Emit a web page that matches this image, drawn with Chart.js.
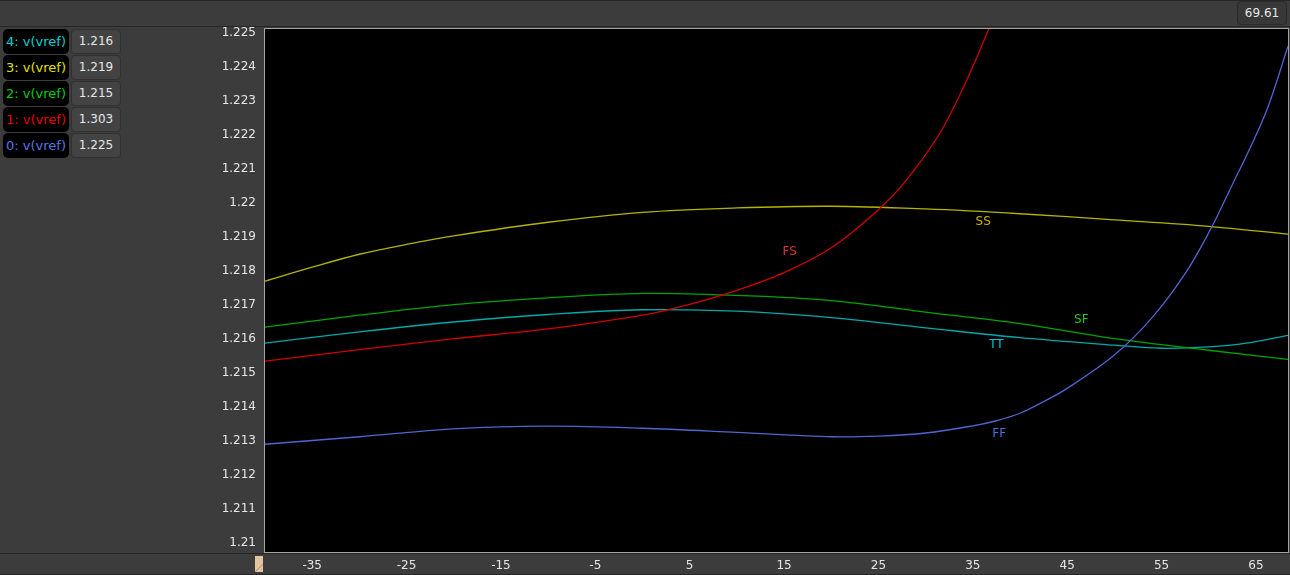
<!DOCTYPE html>
<html>
<head>
<meta charset="utf-8">
<script src="https://cdn.jsdelivr.net/npm/chart.js@4/dist/chart.umd.min.js"></script>
<style>
  html, body { margin: 0; padding: 0; background: #3c3c3c; overflow: hidden; }
  body { width: 1290px; height: 575px; position: relative; font-family: "DejaVu Sans", sans-serif; }
  #topbar { position: absolute; left: 0; top: 0; width: 1290px; height: 27px; border-top: 1px solid #262626; border-bottom: 1px solid #262626; box-sizing: border-box; }
  #cursor { position: absolute; left: 1237px; top: 1px; width: 50px; height: 24px; background: #383838; border: 1px solid #2a2a2a; border-radius: 4px; box-sizing: border-box; color: #e6e6e6; font-size: 12px; line-height: 22px; text-align: center; }
  #legend { position: absolute; left: 3px; top: 29px; }
  .row { position: relative; height: 26px; }
  .name { position: absolute; left: 0; top: 0; width: 66px; height: 25px; background: #000; border-radius: 5px; font-size: 13px; line-height: 25px; padding-left: 3px; box-sizing: border-box; white-space: nowrap; }
  .val { position: absolute; left: 68px; top: 0; width: 50px; height: 25px; background: #434343; border: 1px solid #303030; border-radius: 4px; box-sizing: border-box; color: #e6e6e6; font-size: 12px; line-height: 23px; text-align: center; }
  #bottomline { position: absolute; left: 0; top: 553px; width: 1290px; height: 1px; background: #262626; }
  #edge { position: absolute; left: 0; top: 574px; width: 1290px; height: 1px; background: #262626; }
  #marker { position: absolute; left: 255px; top: 556px; width: 8px; height: 16px; background: linear-gradient(135deg, #e2c3a2 0%, #e2c3a2 62%, #b89878 66%, #e2c3a2 72%); }
  canvas { position: absolute; left: 0; top: 0; }
</style>
</head>
<body>
<div id="topbar"></div>
<div id="cursor">69.61</div>
<div id="legend"></div>
<div id="bottomline"></div>
<div id="edge"></div>
<div id="marker"></div>
<canvas id="myChart" width="1290" height="575"></canvas>
<script>
// temperature sweep (x) and v(vref) per corner
const ssTemps = [-40, -35, -30, -25, -20, -10, 0, 10, 20, 30, 40, 50, 60, 68.4];
const ssValues = [1.21770, 1.21811, 1.21849, 1.21878, 1.21903, 1.21943, 1.21972, 1.21985, 1.21990, 1.21982, 1.21968, 1.21950, 1.21931, 1.21908];
const sfTemps = [-40, -30, -20, -10, 0, 10, 20, 30, 40, 50, 60, 68.4];
const sfValues = [1.21635, 1.21670, 1.21701, 1.21721, 1.21734, 1.21728, 1.21713, 1.21679, 1.21645, 1.21601, 1.21567, 1.21540];
const ttTemps = [-40, -30, -20, -10, 0, 10, 20, 30, 40, 50, 55, 60, 64, 68.4];
const ttValues = [1.21588, 1.21621, 1.21650, 1.21672, 1.21686, 1.21682, 1.21663, 1.21633, 1.21604, 1.21582, 1.21573, 1.21577, 1.21588, 1.21611];
const fsTemps = [-40, -30, -20, -10, 0, 5, 10, 15, 20, 25, 28, 32, 36.7, 40, 45, 50, 55, 60, 68.4];
const fsValues = [1.21535, 1.21569, 1.21601, 1.21630, 1.21670, 1.21702, 1.21743, 1.21795, 1.21868, 1.21980, 1.22068, 1.22228, 1.22511, 1.2277, 1.2330, 1.2405, 1.2505, 1.2630, 1.2980];
const ffTemps = [-40, -30, -20, -10, 0, 10, 20, 25, 30, 35, 37.5, 40, 42.5, 45, 50, 54, 57.5, 60, 62.1, 66, 68.4];
const ffValues = [1.21291, 1.21313, 1.21336, 1.21344, 1.21338, 1.21326, 1.21313, 1.21315, 1.21324, 1.21345, 1.21360, 1.21382, 1.21416, 1.21455, 1.21553, 1.21663, 1.21792, 1.21912, 1.22030, 1.22262, 1.22460];

const xTicks = [-35, -25, -15, -5, 5, 15, 25, 35, 45, 55, 65];
const yTicks = [1.21, 1.211, 1.212, 1.213, 1.214, 1.215, 1.216, 1.217, 1.218, 1.219, 1.22, 1.221, 1.222, 1.223, 1.224, 1.225];

// legend rows, top to bottom, with the cursor readout at 69.61
const legendNames = ['4: v(vref)', '3: v(vref)', '2: v(vref)', '1: v(vref)', '0: v(vref)'];
const cursorValues = ['1.216', '1.219', '1.215', '1.303', '1.225'];
const legendColors = ['#00d2d2', '#e2e200', '#00d000', '#e40000', '#5a74e6'];

// corner names written on the plot
const cornerNames = ['FS', 'SS', 'SF', 'TT', 'FF'];
const cornerX = [15.6, 36.1, 46.5, 37.5, 37.8];
const cornerY = [1.21857, 1.21945, 1.21655, 1.21582, 1.21321];
const cornerColors = ['#e03030', '#d4b000', '#22c822', '#00c8dc', '#4470e4'];

const legend = document.getElementById('legend');
legendNames.forEach((n, i) => {
  const row = document.createElement('div');
  row.className = 'row';
  row.innerHTML = '<div class="name" style="color:' + legendColors[i] + '">' + n + '</div><div class="val">' + cursorValues[i] + '</div>';
  legend.appendChild(row);
});

function pts(xs, ys) { return xs.map((x, i) => ({ x: x, y: ys[i] })); }

const plotFrame = {
  id: 'plotFrame',
  beforeDatasetsDraw(chart) {
    const { ctx, chartArea: a } = chart;
    ctx.save();
    ctx.fillStyle = '#000';
    ctx.fillRect(a.left, a.top, a.right - a.left, a.bottom - a.top);
    ctx.strokeStyle = '#a4a4a4';
    ctx.lineWidth = 1;
    ctx.strokeRect(a.left - 0.5, a.top - 0.5, a.right - a.left + 1, a.bottom - a.top + 1);
    ctx.restore();
  },
  afterDatasetsDraw(chart) {
    const { ctx } = chart;
    const xs = chart.scales.x, ys = chart.scales.y;
    ctx.save();
    ctx.font = '12px "DejaVu Sans"';
    ctx.textAlign = 'center';
    ctx.textBaseline = 'middle';
    cornerNames.forEach((n, i) => {
      ctx.fillStyle = cornerColors[i];
      ctx.fillText(n, xs.getPixelForValue(cornerX[i]), ys.getPixelForValue(cornerY[i]));
    });
    ctx.restore();
  }
};

const line = (label, data, color) => ({
  label: label, data: data, borderColor: color, borderWidth: 1.3,
  pointRadius: 0, fill: false, tension: 0.35
});

new Chart(document.getElementById('myChart'), {
  type: 'line',
  data: {
    datasets: [
      line('0: v(vref)', pts(ffTemps, ffValues), '#5064d2'),
      line('1: v(vref)', pts(fsTemps, fsValues), '#d20000'),
      line('2: v(vref)', pts(sfTemps, sfValues), '#00a400'),
      line('3: v(vref)', pts(ssTemps, ssValues), '#b4b400'),
      line('4: v(vref)', pts(ttTemps, ttValues), '#00aaaa'),
    ]
  },
  options: {
    responsive: false,
    animation: false,
    layout: { padding: { top: 29, right: 2, left: 0, bottom: 0 } },
    plugins: { legend: { display: false }, tooltip: { enabled: false } },
    scales: {
      x: {
        type: 'linear', min: -40, max: 68.4,
        grid: { display: false, drawTicks: false },
        border: { display: false },
        afterBuildTicks: s => { s.ticks = xTicks.map(v => ({ value: v })); },
        afterFit: s => { s.height = 23; },
        ticks: { autoSkip: false, maxRotation: 0, padding: 7, color: '#e6e6e6', font: { family: 'DejaVu Sans', size: 12 },
          callback: v => String(v) }
      },
      y: {
        type: 'linear', min: 1.209745, max: 1.225106,
        grid: { display: false, drawTicks: false },
        border: { display: false },
        afterBuildTicks: s => { s.ticks = yTicks.map(v => ({ value: v })); },
        afterFit: s => { s.width = 265; },
        ticks: { autoSkip: false, padding: 9, color: '#e6e6e6', font: { family: 'DejaVu Sans', size: 12 },
          callback: v => String(parseFloat(v.toFixed(3))) }
      }
    }
  },
  plugins: [plotFrame]
});
</script>
</body>
</html>
